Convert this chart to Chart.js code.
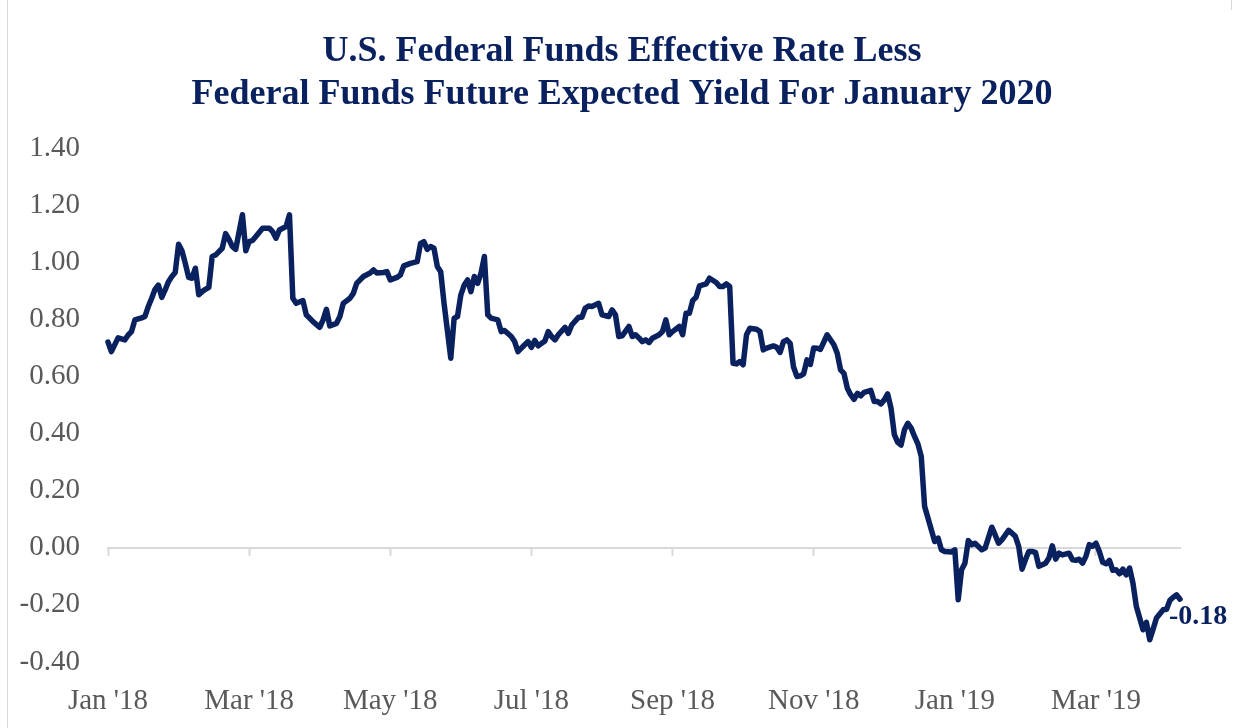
<!DOCTYPE html>
<html>
<head>
<meta charset="utf-8">
<script src="https://cdn.jsdelivr.net/npm/chart.js@4.4.1/dist/chart.umd.min.js"></script>
<style>
  html, body { margin: 0; padding: 0; background: #ffffff; }
  #wrap { position: relative; width: 1235px; height: 728px; }
  canvas { display: block; }
</style>
</head>
<body>
<div id="wrap"><canvas id="c" width="1235" height="728"></canvas></div>
<script>
const titleLines = [
  "U.S. Federal Funds Effective Rate Less",
  "Federal Funds Future Expected Yield For January 2020"
];
const tickLabels = ["Jan '18", "Mar '18", "May '18", "Jul '18", "Sep '18", "Nov '18", "Jan '19", "Mar '19"];
const tickIndex = [0, 42, 84, 126, 168, 210, 252, 294];
const lastIndex = 319;
const endLabel = "-0.18";

// business-day index of each reading
const dayIndex = [
  0,1,3,5,6,7,8,10,11,12,13,14,15,16,17,18,19,20,21,22,23,24,25,26,27,28,29,30,31,32,33,34,35,36,37,38,40,41,42,43,44,46,48,49,50,51,52,53,54,
  55,56,58,59,61,63,64,65,66,68,69,70,72,73,74,76,78,79,80,82,83,84,86,87,88,90,92,93,94,95,96,97,98,99,100,
  102,103,104,105,106,107,108,109,110,111,112,113,114,116,117,118,120,121,122,123,124,125,126,127,128,130,131,132,133,134,136,137,138,
  140,141,142,143,144,146,147,149,150,151,152,153,155,156,157,158,159,160,161,162,164,165,166,167,168,170,171,172,173,174,175,176,178,179,
  181,182,183,184,185,186,187,188,189,190,191,193,194,195,196,198,199,200,201,202,203,204,205,206,207,208,209,210,211,212,214,216,217,218,219,
  220,221,222,223,224,225,227,228,229,230,231,232,233,234,235,236,237,238,239,240,241,242,243,244,245,246,247,248,249,251,252,
  253,254,255,256,257,258,260,261,263,264,265,266,268,269,270,271,272,273,274,275,276,277,279,280,281,282,283,284,286,287,288,289,290,
  291,292,293,294,295,296,297,298,299,300,301,302,303,304,305,306,307,308,309,310,311,312,314,315,316,317,318,319
];

// spread readings (percentage points)
const spread = [
  0.72,0.687,0.735,0.728,0.745,0.757,0.798,0.805,0.81,0.845,0.874,0.905,0.92,0.877,0.903,0.932,0.95,0.964,1.063,1.04,0.996,0.947,0.944,0.979,0.886,0.897,0.905,0.912,1.02,1.025,1.037,1.049,1.10,1.08,1.055,1.045,1.166,1.04,1.072,1.076,1.09,1.119,1.119,1.107,1.084,1.113,1.119,1.125,1.166,
  0.874,0.856,0.866,0.816,0.792,0.772,0.798,0.835,0.777,0.786,0.81,0.856,0.874,0.891,0.926,0.95,0.962,0.973,0.962,0.964,0.967,0.938,0.947,0.955,0.987,0.996,1.002,1.066,1.072,1.045,1.055,1.049,0.985,0.967,0.856,
  0.664,0.804,0.81,0.886,0.92,0.938,0.897,0.95,0.926,0.962,1.02,0.816,0.804,0.798,0.757,0.761,0.74,0.722,0.687,0.699,0.711,0.722,0.702,0.726,0.707,0.724,0.757,0.74,0.728,0.746,0.772,0.751,0.78,
  0.807,0.807,0.839,0.847,0.845,0.856,0.816,0.81,0.833,0.816,0.74,0.742,0.775,0.74,0.746,0.735,0.722,0.728,0.719,0.734,0.746,0.757,0.798,0.746,0.757,0.775,0.746,0.821,0.821,0.866,0.877,0.917,0.924,0.944,
  0.929,0.915,0.915,0.924,0.915,0.646,0.644,0.652,0.641,0.746,0.769,0.765,0.757,0.693,0.699,0.707,0.702,0.684,0.722,0.728,0.716,0.633,0.6,0.602,0.609,0.658,0.642,0.70,0.699,0.695,0.746,0.711,0.681,0.623,0.611,
  0.559,0.536,0.52,0.541,0.532,0.544,0.551,0.512,0.512,0.504,0.518,0.539,0.489,0.396,0.369,0.36,0.413,0.436,0.419,0.39,0.364,0.32,0.145,0.104,0.063,0.022,0.034,-0.007,-0.013,-0.015,-0.007,
  -0.182,-0.077,-0.054,0.025,0.011,0.016,-0.007,-0.001,0.072,0.045,0.016,0.028,0.061,0.051,0.04,0.005,-0.075,-0.042,-0.013,-0.013,-0.016,-0.065,-0.054,-0.036,0.007,-0.04,-0.019,-0.025,-0.019,-0.042,-0.044,-0.04,-0.054,
  -0.03,0.011,0.005,0.016,-0.013,-0.051,-0.056,-0.044,-0.079,-0.077,-0.091,-0.075,-0.095,-0.071,-0.124,-0.205,-0.246,-0.287,-0.261,-0.322,-0.285,-0.246,-0.217,-0.215,-0.184,-0.173,-0.165,-0.18
];

const NAVY = '#0a2160';
const GREY_TEXT = '#595959';
const FONT = '"Liberation Serif", "Times New Roman", serif';

const points = dayIndex.map((d, i) => ({ x: d, y: spread[i] }));

const deco = {
  id: 'deco',
  afterDraw(chart) {
    const ctx = chart.ctx;
    ctx.save();
    // frame lines
    ctx.strokeStyle = '#d9d9d9';
    ctx.lineWidth = 1;
    ctx.beginPath();
    ctx.moveTo(7.5, 0); ctx.lineTo(7.5, 728);
    ctx.moveTo(1231.5, 0); ctx.lineTo(1231.5, 10);
    ctx.stroke();
    // title
    ctx.fillStyle = NAVY;
    ctx.font = 'bold 36px ' + FONT;
    ctx.textAlign = 'center';
    ctx.textBaseline = 'alphabetic';
    ctx.fillText(titleLines[0], 622, 61);
    ctx.fillText(titleLines[1], 622, 104);
    // end value label
    const n = spread.length - 1;
    const lx = chart.scales.x.getPixelForValue(dayIndex[n]);
    const ly = chart.scales.y.getPixelForValue(spread[n]);
    ctx.font = 'bold 28px ' + FONT;
    ctx.textAlign = 'left';
    ctx.textBaseline = 'middle';
    ctx.fillText(endLabel, lx - 11, ly + 18);
    ctx.restore();
  }
};

new Chart(document.getElementById('c'), {
  type: 'line',
  data: {
    datasets: [{
      data: points,
      borderColor: NAVY,
      borderWidth: 5.5,
      pointRadius: 0,
      tension: 0,
      fill: false,
      borderJoinStyle: 'round',
      borderCapStyle: 'round',
      clip: false
    }]
  },
  options: {
    responsive: false,
    devicePixelRatio: 1,
    animation: false,
    events: [],
    layout: { padding: { left: 8, right: 55, top: 148, bottom: 12 } },
    plugins: {
      legend: { display: false },
      title: { display: false },
      tooltip: { enabled: false }
    },
    scales: {
      x: {
        type: 'linear',
        min: 0,
        max: lastIndex,
        position: 'bottom',
        grid: { display: false, drawTicks: false },
        border: { display: false },
        afterBuildTicks: (scale) => { scale.ticks = tickIndex.map(v => ({ value: v })); },
        afterFit: (scale) => { scale.height = 54; },
        ticks: {
          autoSkip: false,
          maxRotation: 0,
          padding: 22,
          color: GREY_TEXT,
          font: { family: FONT, size: 29 },
          callback: (v) => { const i = tickIndex.indexOf(v); return i >= 0 ? tickLabels[i] : ''; }
        }
      },
      x2: {
        type: 'linear',
        axis: 'x',
        min: 0,
        max: lastIndex,
        position: { y: 0 },
        grid: { drawOnChartArea: false, drawTicks: true, tickLength: 7, color: '#d9d9d9', tickWidth: 2 },
        border: { display: true, color: '#d9d9d9', width: 2 },
        afterBuildTicks: (scale) => { scale.ticks = tickIndex.map(v => ({ value: v })); },
        afterFit: (scale) => { scale.height = 0; },
        ticks: { display: false }
      },
      y: {
        type: 'linear',
        min: -0.4,
        max: 1.4,
        position: 'left',
        grid: { display: false, drawTicks: false },
        border: { display: false },
        afterFit: (scale) => { scale.width = 100; },
        ticks: {
          stepSize: 0.2,
          padding: 28,
          color: GREY_TEXT,
          font: { family: FONT, size: 29 },
          callback: (v) => (Math.abs(v) < 1e-9 ? 0 : v).toFixed(2)
        }
      }
    }
  },
  plugins: [deco]
});
</script>
</body>
</html>
